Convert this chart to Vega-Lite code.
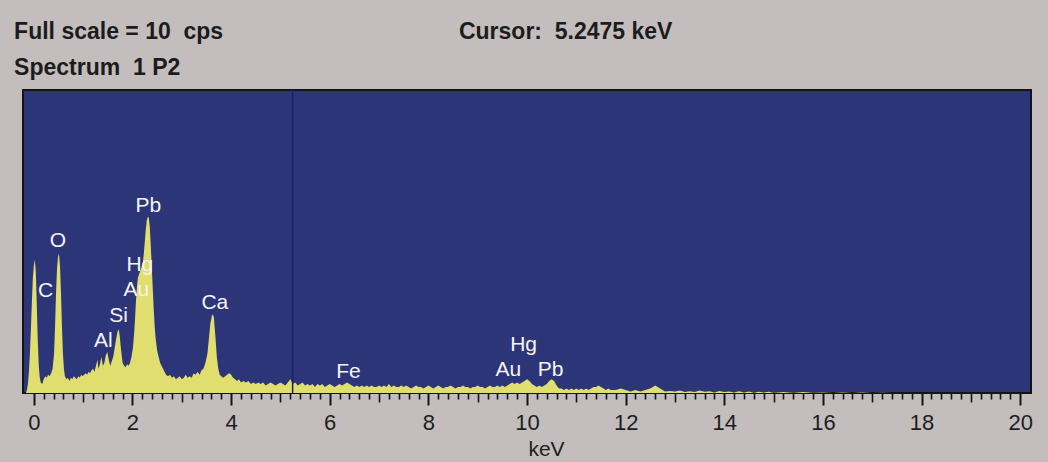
{
  "$schema": "https://vega.github.io/schema/vega-lite/v6.json",
  "autosize": {"type": "none"},
  "width": 1008,
  "height": 303,
  "padding": {"left": 23, "top": 90, "right": 17, "bottom": 69},
  "background": "#c3bdbd",
  "view": {"fill": "#2c3577", "stroke": "#141414", "strokeWidth": 2},
  "config": {"font": "Liberation Sans"},
  "datasets": {
    "spectrum": [
      {"e": -0.16, "c": 0}, {"e": -0.14, "c": 1}, {"e": -0.12, "c": 3}, {"e": -0.1, "c": 7}, {"e": -0.08, "c": 13},
      {"e": -0.06, "c": 21}, {"e": -0.04, "c": 30}, {"e": -0.02, "c": 38}, {"e": 0.0, "c": 42}, {"e": 0.02, "c": 44},
      {"e": 0.04, "c": 40}, {"e": 0.06, "c": 29}, {"e": 0.08, "c": 17}, {"e": 0.1, "c": 9}, {"e": 0.12, "c": 5},
      {"e": 0.14, "c": 3.5}, {"e": 0.17, "c": 3}, {"e": 0.2, "c": 4.5}, {"e": 0.23, "c": 5.5}, {"e": 0.26, "c": 5},
      {"e": 0.29, "c": 6}, {"e": 0.32, "c": 5.5}, {"e": 0.35, "c": 6.5}, {"e": 0.38, "c": 8}, {"e": 0.41, "c": 13},
      {"e": 0.43, "c": 22}, {"e": 0.45, "c": 33}, {"e": 0.47, "c": 41}, {"e": 0.49, "c": 45}, {"e": 0.51, "c": 46},
      {"e": 0.53, "c": 42}, {"e": 0.55, "c": 33}, {"e": 0.57, "c": 22}, {"e": 0.59, "c": 13}, {"e": 0.61, "c": 8},
      {"e": 0.63, "c": 5.5}, {"e": 0.66, "c": 4.5}, {"e": 0.69, "c": 5}, {"e": 0.72, "c": 4}, {"e": 0.75, "c": 5},
      {"e": 0.78, "c": 4.5}, {"e": 0.81, "c": 5.5}, {"e": 0.84, "c": 5}, {"e": 0.87, "c": 4.5}, {"e": 0.9, "c": 5.5},
      {"e": 0.93, "c": 5}, {"e": 0.96, "c": 6}, {"e": 0.99, "c": 5.5}, {"e": 1.02, "c": 6}, {"e": 1.05, "c": 6.5},
      {"e": 1.08, "c": 6}, {"e": 1.11, "c": 7}, {"e": 1.14, "c": 6.5}, {"e": 1.17, "c": 7.5}, {"e": 1.2, "c": 8},
      {"e": 1.23, "c": 7}, {"e": 1.26, "c": 9}, {"e": 1.29, "c": 11}, {"e": 1.31, "c": 8}, {"e": 1.34, "c": 9.5},
      {"e": 1.37, "c": 12}, {"e": 1.4, "c": 9}, {"e": 1.43, "c": 10}, {"e": 1.46, "c": 12.5}, {"e": 1.49, "c": 13.5},
      {"e": 1.52, "c": 11}, {"e": 1.55, "c": 9}, {"e": 1.58, "c": 10.5}, {"e": 1.61, "c": 12}, {"e": 1.64, "c": 15},
      {"e": 1.67, "c": 18}, {"e": 1.7, "c": 20.5}, {"e": 1.72, "c": 21}, {"e": 1.74, "c": 19}, {"e": 1.77, "c": 14},
      {"e": 1.8, "c": 10}, {"e": 1.83, "c": 9}, {"e": 1.86, "c": 8.5}, {"e": 1.89, "c": 9.5}, {"e": 1.92, "c": 9},
      {"e": 1.95, "c": 10}, {"e": 1.98, "c": 12}, {"e": 2.01, "c": 15}, {"e": 2.03, "c": 19}, {"e": 2.05, "c": 24},
      {"e": 2.07, "c": 30}, {"e": 2.09, "c": 35}, {"e": 2.11, "c": 38}, {"e": 2.13, "c": 39}, {"e": 2.15, "c": 40},
      {"e": 2.17, "c": 41}, {"e": 2.19, "c": 42}, {"e": 2.21, "c": 43}, {"e": 2.23, "c": 46}, {"e": 2.25, "c": 50},
      {"e": 2.27, "c": 54}, {"e": 2.29, "c": 57}, {"e": 2.31, "c": 58}, {"e": 2.33, "c": 58}, {"e": 2.35, "c": 55},
      {"e": 2.37, "c": 49}, {"e": 2.39, "c": 42}, {"e": 2.41, "c": 35}, {"e": 2.43, "c": 28}, {"e": 2.45, "c": 22},
      {"e": 2.47, "c": 18}, {"e": 2.5, "c": 14}, {"e": 2.53, "c": 12}, {"e": 2.56, "c": 10}, {"e": 2.59, "c": 9},
      {"e": 2.62, "c": 8}, {"e": 2.65, "c": 7}, {"e": 2.68, "c": 6}, {"e": 2.72, "c": 5.5}, {"e": 2.76, "c": 6},
      {"e": 2.8, "c": 5}, {"e": 2.84, "c": 5.5}, {"e": 2.88, "c": 4.5}, {"e": 2.92, "c": 5}, {"e": 2.96, "c": 5.5},
      {"e": 3.0, "c": 4.5}, {"e": 3.04, "c": 5}, {"e": 3.08, "c": 6}, {"e": 3.12, "c": 5}, {"e": 3.16, "c": 5.5},
      {"e": 3.2, "c": 5}, {"e": 3.24, "c": 6.5}, {"e": 3.28, "c": 6}, {"e": 3.32, "c": 7}, {"e": 3.36, "c": 6},
      {"e": 3.4, "c": 7.5}, {"e": 3.44, "c": 8}, {"e": 3.48, "c": 10}, {"e": 3.52, "c": 13}, {"e": 3.55, "c": 18},
      {"e": 3.58, "c": 23}, {"e": 3.61, "c": 25.5}, {"e": 3.63, "c": 26}, {"e": 3.65, "c": 25}, {"e": 3.68, "c": 19},
      {"e": 3.71, "c": 12}, {"e": 3.74, "c": 8}, {"e": 3.77, "c": 6}, {"e": 3.8, "c": 5.5}, {"e": 3.84, "c": 5},
      {"e": 3.88, "c": 5.5}, {"e": 3.92, "c": 6}, {"e": 3.96, "c": 6.5}, {"e": 4.0, "c": 6}, {"e": 4.04, "c": 5},
      {"e": 4.08, "c": 4.5}, {"e": 4.12, "c": 4}, {"e": 4.16, "c": 4.5}, {"e": 4.2, "c": 3.5}, {"e": 4.25, "c": 4},
      {"e": 4.3, "c": 3.5}, {"e": 4.35, "c": 4}, {"e": 4.4, "c": 3}, {"e": 4.45, "c": 3.5}, {"e": 4.5, "c": 3},
      {"e": 4.55, "c": 3.5}, {"e": 4.6, "c": 3}, {"e": 4.65, "c": 3.5}, {"e": 4.7, "c": 2.5}, {"e": 4.75, "c": 3},
      {"e": 4.8, "c": 3.5}, {"e": 4.85, "c": 3}, {"e": 4.9, "c": 2.5}, {"e": 4.95, "c": 3}, {"e": 5.0, "c": 3.5},
      {"e": 5.05, "c": 3}, {"e": 5.1, "c": 2.5}, {"e": 5.15, "c": 3.5}, {"e": 5.2, "c": 4.5}, {"e": 5.25, "c": 3},
      {"e": 5.3, "c": 3.5}, {"e": 5.35, "c": 2.5}, {"e": 5.4, "c": 3}, {"e": 5.45, "c": 3.5}, {"e": 5.5, "c": 2.5},
      {"e": 5.55, "c": 3}, {"e": 5.6, "c": 2.5}, {"e": 5.65, "c": 3}, {"e": 5.7, "c": 2}, {"e": 5.75, "c": 3},
      {"e": 5.8, "c": 2.5}, {"e": 5.85, "c": 3}, {"e": 5.9, "c": 2}, {"e": 5.95, "c": 2.5}, {"e": 6.0, "c": 3},
      {"e": 6.05, "c": 2.5}, {"e": 6.1, "c": 2}, {"e": 6.15, "c": 2.5}, {"e": 6.2, "c": 3}, {"e": 6.25, "c": 2.5},
      {"e": 6.3, "c": 3}, {"e": 6.35, "c": 3.5}, {"e": 6.4, "c": 3}, {"e": 6.45, "c": 2.5}, {"e": 6.5, "c": 2},
      {"e": 6.55, "c": 2.5}, {"e": 6.6, "c": 2}, {"e": 6.65, "c": 2.5}, {"e": 6.7, "c": 2}, {"e": 6.75, "c": 2.5},
      {"e": 6.8, "c": 2}, {"e": 6.85, "c": 2.5}, {"e": 6.9, "c": 2}, {"e": 6.95, "c": 2}, {"e": 7.0, "c": 2.5},
      {"e": 7.05, "c": 2}, {"e": 7.1, "c": 2.5}, {"e": 7.15, "c": 2}, {"e": 7.2, "c": 3}, {"e": 7.25, "c": 2},
      {"e": 7.3, "c": 2.5}, {"e": 7.35, "c": 2}, {"e": 7.4, "c": 2}, {"e": 7.45, "c": 2.5}, {"e": 7.5, "c": 2},
      {"e": 7.55, "c": 2.5}, {"e": 7.6, "c": 2}, {"e": 7.65, "c": 1.5}, {"e": 7.7, "c": 2}, {"e": 7.75, "c": 2.5},
      {"e": 7.8, "c": 2}, {"e": 7.85, "c": 2}, {"e": 7.9, "c": 1.5}, {"e": 7.95, "c": 2}, {"e": 8.0, "c": 2.5},
      {"e": 8.05, "c": 2}, {"e": 8.1, "c": 1.5}, {"e": 8.15, "c": 2}, {"e": 8.2, "c": 2.5}, {"e": 8.25, "c": 2},
      {"e": 8.3, "c": 1.5}, {"e": 8.35, "c": 2}, {"e": 8.4, "c": 2}, {"e": 8.45, "c": 2.5}, {"e": 8.5, "c": 2},
      {"e": 8.55, "c": 1.5}, {"e": 8.6, "c": 2}, {"e": 8.65, "c": 2}, {"e": 8.7, "c": 2.5}, {"e": 8.75, "c": 2},
      {"e": 8.8, "c": 2}, {"e": 8.85, "c": 1.5}, {"e": 8.9, "c": 2}, {"e": 8.95, "c": 2}, {"e": 9.0, "c": 2.5},
      {"e": 9.05, "c": 2}, {"e": 9.1, "c": 2}, {"e": 9.15, "c": 1.5}, {"e": 9.2, "c": 2}, {"e": 9.25, "c": 2.5},
      {"e": 9.3, "c": 2}, {"e": 9.35, "c": 2}, {"e": 9.4, "c": 2.5}, {"e": 9.45, "c": 2}, {"e": 9.5, "c": 2.5},
      {"e": 9.55, "c": 2}, {"e": 9.6, "c": 2.5}, {"e": 9.65, "c": 3}, {"e": 9.7, "c": 3.5}, {"e": 9.75, "c": 3},
      {"e": 9.8, "c": 3.5}, {"e": 9.85, "c": 3}, {"e": 9.9, "c": 3.5}, {"e": 9.95, "c": 4}, {"e": 10.0, "c": 4.5},
      {"e": 10.05, "c": 4}, {"e": 10.1, "c": 3}, {"e": 10.15, "c": 2.5}, {"e": 10.2, "c": 2}, {"e": 10.25, "c": 2.5},
      {"e": 10.3, "c": 2}, {"e": 10.35, "c": 2.5}, {"e": 10.4, "c": 3}, {"e": 10.45, "c": 4}, {"e": 10.5, "c": 4.5},
      {"e": 10.55, "c": 4}, {"e": 10.6, "c": 2.5}, {"e": 10.65, "c": 1.5}, {"e": 10.7, "c": 1.5}, {"e": 10.75, "c": 1},
      {"e": 10.8, "c": 1.5}, {"e": 10.85, "c": 1}, {"e": 10.9, "c": 1.5}, {"e": 10.95, "c": 1}, {"e": 11.0, "c": 1.5},
      {"e": 11.05, "c": 1}, {"e": 11.1, "c": 1.5}, {"e": 11.15, "c": 1}, {"e": 11.2, "c": 1.5}, {"e": 11.25, "c": 1},
      {"e": 11.3, "c": 1.5}, {"e": 11.35, "c": 2}, {"e": 11.4, "c": 2}, {"e": 11.45, "c": 2.5}, {"e": 11.5, "c": 2},
      {"e": 11.55, "c": 1.5}, {"e": 11.6, "c": 1}, {"e": 11.65, "c": 1.5}, {"e": 11.7, "c": 1}, {"e": 11.8, "c": 1},
      {"e": 11.9, "c": 1.5}, {"e": 12.0, "c": 1}, {"e": 12.1, "c": 0.5}, {"e": 12.2, "c": 1}, {"e": 12.3, "c": 0.5},
      {"e": 12.4, "c": 1}, {"e": 12.5, "c": 1.5}, {"e": 12.55, "c": 2}, {"e": 12.6, "c": 2.5}, {"e": 12.65, "c": 2},
      {"e": 12.7, "c": 1.5}, {"e": 12.75, "c": 1}, {"e": 12.8, "c": 0.5}, {"e": 12.9, "c": 0.7}, {"e": 13.0, "c": 0.5},
      {"e": 13.1, "c": 0.8}, {"e": 13.2, "c": 0.3}, {"e": 13.3, "c": 0.6}, {"e": 13.4, "c": 0.3}, {"e": 13.5, "c": 0.8},
      {"e": 13.6, "c": 0.4}, {"e": 13.7, "c": 0.6}, {"e": 13.8, "c": 0.2}, {"e": 13.9, "c": 0.7}, {"e": 14.0, "c": 0.3},
      {"e": 14.1, "c": 0.5}, {"e": 14.2, "c": 0.2}, {"e": 14.3, "c": 0.6}, {"e": 14.4, "c": 0.2}, {"e": 14.5, "c": 0.5},
      {"e": 14.6, "c": 0.1}, {"e": 14.7, "c": 0.4}, {"e": 14.8, "c": 0.2}, {"e": 14.9, "c": 0.4}, {"e": 15.0, "c": 0.1},
      {"e": 15.2, "c": 0.3}, {"e": 15.4, "c": 0.1}, {"e": 15.6, "c": 0.3}, {"e": 15.8, "c": 0.1}, {"e": 16.0, "c": 0.2},
      {"e": 16.2, "c": 0}, {"e": 16.4, "c": 0.2}, {"e": 16.6, "c": 0}, {"e": 16.8, "c": 0.2}, {"e": 17.0, "c": 0},
      {"e": 17.2, "c": 0.1}, {"e": 17.4, "c": 0}, {"e": 20.0, "c": 0}
    ],
    "peaks": [
      {"e": 0.24, "c": 33.7, "t": "C"},
      {"e": 0.49, "c": 50.2, "t": "O"},
      {"e": 1.41, "c": 17.2, "t": "Al"},
      {"e": 1.72, "c": 25.4, "t": "Si"},
      {"e": 2.08, "c": 34, "t": "Au"},
      {"e": 2.15, "c": 42.2, "t": "Hg"},
      {"e": 2.32, "c": 61.8, "t": "Pb"},
      {"e": 3.67, "c": 29.6, "t": "Ca"},
      {"e": 6.38, "c": 7, "t": "Fe"},
      {"e": 9.62, "c": 7.6, "t": "Au"},
      {"e": 9.93, "c": 15.8, "t": "Hg"},
      {"e": 10.48, "c": 7.6, "t": "Pb"}
    ],
    "header": [
      {"e": -0.4, "c": 119.1, "t": "Full scale = 10 \u00a0cps"},
      {"e": -0.4, "c": 107.4, "t": "Spectrum \u00a01 P2"},
      {"e": 8.62, "c": 119.1, "t": "Cursor: \u00a05.2475 keV"}
    ],
    "cursor": [{"e": 5.2475}]
  },
  "resolve": {"axis": {"x": "independent"}},
  "layer": [
    {
      "data": {"name": "spectrum"},
      "mark": {"type": "area", "color": "#dfde6e", "interpolate": "linear", "clip": true},
      "encoding": {
        "x": {
          "field": "e", "type": "quantitative",
          "scale": {"domain": [-0.22, 20.22], "nice": false, "zero": false},
          "axis": {
            "orient": "bottom",
            "values": [0, 2, 4, 6, 8, 10, 12, 14, 16, 18, 20],
            "domain": false, "grid": false,
            "tickSize": 12, "tickWidth": 2, "tickColor": "#141414",
            "labelFontSize": 22, "labelColor": "#1e1e1e", "labelPadding": 7,
            "labelFlush": false, "labelOverlap": false,
            "title": "keV", "titleFontSize": 21, "titleFontWeight": "normal",
            "titleColor": "#1e1e1e", "titlePadding": 5, "titleX": 523
          }
        },
        "y": {
          "field": "c", "type": "quantitative",
          "scale": {"domain": [0, 100], "nice": false, "zero": true},
          "axis": null
        }
      }
    },
    {
      "data": {"name": "cursor"},
      "mark": {"type": "rule", "color": "#1b2260", "strokeWidth": 1.5},
      "encoding": {
        "x": {
          "field": "e", "type": "quantitative",
          "axis": {
            "orient": "bottom",
            "values": [1, 3, 5, 7, 9, 11, 13, 15, 17, 19],
            "domain": false, "grid": false, "labels": false, "title": null,
            "tickSize": 9, "tickWidth": 1.6, "tickColor": "#141414"
          }
        }
      }
    },
    {
      "data": {"name": "peaks"},
      "mark": {"type": "text", "color": "#f4f4f4", "fontSize": 21, "baseline": "middle", "align": "center"},
      "encoding": {
        "x": {
          "field": "e", "type": "quantitative",
          "axis": {
            "orient": "bottom",
            "values": [0.2, 0.4, 0.6, 0.8, 1.2, 1.4, 1.6, 1.8, 2.2, 2.4, 2.6, 2.8, 3.2, 3.4, 3.6, 3.8, 4.2, 4.4, 4.6, 4.8, 5.2, 5.4, 5.6, 5.8, 6.2, 6.4, 6.6, 6.8, 7.2, 7.4, 7.6, 7.8, 8.2, 8.4, 8.6, 8.8, 9.2, 9.4, 9.6, 9.8, 10.2, 10.4, 10.6, 10.8, 11.2, 11.4, 11.6, 11.8, 12.2, 12.4, 12.6, 12.8, 13.2, 13.4, 13.6, 13.8, 14.2, 14.4, 14.6, 14.8, 15.2, 15.4, 15.6, 15.8, 16.2, 16.4, 16.6, 16.8, 17.2, 17.4, 17.6, 17.8, 18.2, 18.4, 18.6, 18.8, 19.2, 19.4, 19.6, 19.8],
            "domain": false, "grid": false, "labels": false, "title": null,
            "tickSize": 6, "tickWidth": 1.6, "tickColor": "#141414"
          }
        },
        "y": {"field": "c", "type": "quantitative"},
        "text": {"field": "t"}
      }
    },
    {
      "data": {"name": "header"},
      "mark": {"type": "text", "color": "#1c1c1c", "fontSize": 23, "fontWeight": "bold", "baseline": "middle", "align": "left", "clip": false},
      "encoding": {
        "x": {"field": "e", "type": "quantitative", "axis": null},
        "y": {"field": "c", "type": "quantitative"},
        "text": {"field": "t"}
      }
    }
  ]
}
